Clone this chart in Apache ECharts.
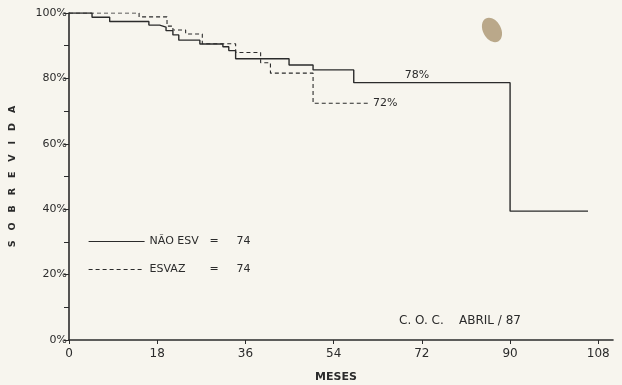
<!DOCTYPE html>
<html>
<head>
<meta charset="utf-8">
<script src="https://cdn.jsdelivr.net/npm/echarts@6/dist/echarts.min.js"></script>
<style>
  html, body { margin: 0; padding: 0; background: #f7f5ee; }
  #chart { width: 622px; height: 385px; }
</style>
</head>
<body>
<div id="chart"></div>
<script>
// meses / sobrevida (%) - curvas em degrau
var naoEsvMeses = [0, 4.7, 8.3, 16.3, 18.5, 19.8, 21.2, 22.4, 26.7, 31.4, 32.6, 34.0, 44.9, 49.8, 58.1, 90.0, 105.9];
var naoEsvSobre = [100, 98.7, 97.4, 96.3, 95.7, 94.6, 93.3, 91.7, 90.5, 89.7, 88.5, 86.0, 84.1, 82.6, 78.7, 39.4, 39.4];

var esvazMeses = [0, 14.3, 20.0, 21.2, 23.8, 27.2, 34.0, 39.1, 41.1, 49.8, 61.2];
var esvazSobre = [100, 98.8, 96.0, 94.8, 93.6, 90.6, 87.9, 84.8, 81.6, 72.4, 72.4];

var xTicks = [0, 18, 36, 54, 72, 90, 108];
var nomes = ['NÃO ESV', 'ESVAZ'];
var totais = [74, 74];

function pares(xs, ys) {
  var out = [];
  for (var i = 0; i < xs.length; i++) out.push([xs[i], ys[i]]);
  return out;
}

var tinta = '#2b2b2b';
var fonte = 'DejaVu Sans';

var myChart = echarts.init(document.getElementById('chart'));

var option = {
  backgroundColor: '#f7f5ee',
  animation: false,
  grid: { left: 69, right: 9, top: 13, bottom: 45, outerBoundsMode: 'none' },
  legend: {
    orient: 'vertical',
    left: 83,
    top: 231,
    itemGap: 17,
    itemWidth: 56,
    itemHeight: 10,
    itemStyle: { opacity: 0, borderWidth: 0 },
    lineStyle: { width: 1.2 },
    data: nomes,
    formatter: function (name) {
      var n = totais[nomes.indexOf(name)];
      return '{a|' + name + '}{b|=}{c|' + n + '}';
    },
    textStyle: {
      color: tinta,
      fontFamily: fonte,
      fontSize: 11,
      rich: {
        a: { width: 60, fontFamily: fonte, fontSize: 11, color: tinta },
        b: { width: 27, fontFamily: fonte, fontSize: 11, color: tinta },
        c: { fontFamily: fonte, fontSize: 11, color: tinta }
      }
    }
  },
  xAxis: {
    type: 'value',
    min: 0,
    max: 111,
    name: 'MESES',
    nameLocation: 'middle',
    nameGap: 32,
    nameTextStyle: { color: tinta, fontFamily: fonte, fontSize: 11, fontWeight: 'bold', padding: [0, 10, 0, 0] },
    axisLine: { lineStyle: { color: tinta, width: 1.6 } },
    axisTick: { customValues: xTicks, length: 4, lineStyle: { color: tinta } },
    axisLabel: { customValues: xTicks, margin: 8, color: tinta, fontFamily: fonte, fontSize: 12 },
    splitLine: { show: false }
  },
  yAxis: {
    type: 'value',
    min: 0,
    max: 100,
    interval: 10,
    name: 'S   O   B   R   E   V   I   D   A',
    nameLocation: 'middle',
    nameRotate: 90,
    nameGap: 51,
    nameTextStyle: { color: tinta, fontFamily: fonte, fontSize: 9.5, fontWeight: 'bold' },
    axisLine: { show: true, lineStyle: { color: tinta, width: 1.6 } },
    axisTick: { length: 5, lineStyle: { color: tinta } },
    axisLabel: {
      margin: 2,
      color: tinta,
      fontFamily: fonte,
      fontSize: 11,
      formatter: function (v) { return v % 20 === 0 ? v + '%' : ''; }
    },
    splitLine: { show: false }
  },
  graphic: [
    {
      type: 'text',
      left: 399,
      top: 315,
      style: { text: 'C. O. C.    ABRIL / 87', fill: tinta, font: '12px "DejaVu Sans"' }
    },
    {
      type: 'ellipse',
      shape: { cx: 492, cy: 30, rx: 9, ry: 13 },
      rotation: 0.5,
      originX: 492,
      originY: 30,
      style: { fill: '#b3a07e', opacity: 0.9 },
      silent: true
    }
  ],
  series: [
    {
      name: nomes[0],
      type: 'line',
      step: 'end',
      symbol: 'none',
      data: pares(naoEsvMeses, naoEsvSobre),
      lineStyle: { color: tinta, width: 1.4, type: 'solid' },
      itemStyle: { color: tinta },
      markPoint: {
        symbol: 'circle',
        symbolSize: 0,
        data: [{ coord: [71, naoEsvSobre[14]], value: naoEsvSobre[14] }],
        label: {
          show: true,
          position: 'top',
          distance: 2,
          formatter: '78%',
          color: tinta,
          fontFamily: fonte,
          fontSize: 11
        }
      }
    },
    {
      name: nomes[1],
      type: 'line',
      step: 'end',
      symbol: 'none',
      data: pares(esvazMeses, esvazSobre),
      lineStyle: { color: tinta, width: 1.1, type: [4, 3] },
      itemStyle: { color: tinta },
      endLabel: {
        show: true,
        distance: 4,
        formatter: '72%',
        color: tinta,
        fontFamily: fonte,
        fontSize: 11
      }
    }
  ]
};
myChart.setOption(option);
</script>
</body>
</html>
